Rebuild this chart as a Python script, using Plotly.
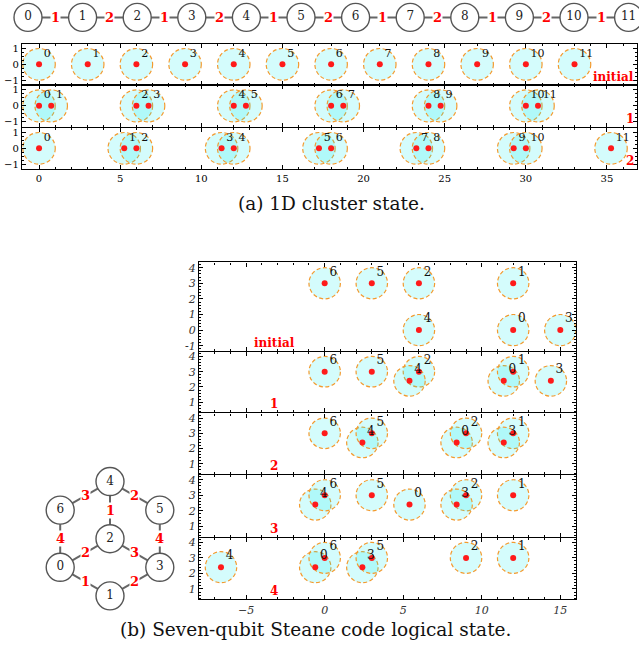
import math
import plotly.graph_objects as go

W, H = 639, 656

# ---------------- DATA ----------------
chain_labels = [str(i) for i in range(12)]
chain_edge_labels = ["1", "2", "1", "2", "1", "2", "1", "2", "1", "2", "1"]

a_qubits = [str(i) for i in range(12)]
a_panel_names = ["initial", "1", "2"]
a_x_initial = [0, 3, 6, 9, 12, 15, 18, 21, 24, 27, 30, 33]
a_x_step1 = [0, 0.75, 6, 6.75, 12, 12.75, 18, 18.75, 24, 24.75, 30, 30.75]
a_x_step2 = [0, 5.25, 6, 11.25, 12, 17.25, 18, 23.25, 24, 29.25, 30, 35.25]
a_y_all = [0] * 12

b_qubits = ["0", "1", "2", "3", "4", "5", "6"]
b_panel_names = ["initial", "1", "2", "3", "4"]
b_x_initial = [12, 12, 6, 15, 6, 3, 0]
b_y_initial = [0, 3, 3, 0, 0, 3, 3]
b_x_step1 = [11.4, 12, 6, 14.4, 5.4, 3, 0]
b_y_step1 = [2.4, 3, 3, 2.4, 2.4, 3, 3]
b_x_step2 = [8.4, 12, 9, 11.4, 2.4, 3, 0]
b_y_step2 = [2.4, 3, 3, 2.4, 2.4, 3, 3]
b_x_step3 = [5.4, 12, 9, 8.4, -0.6, 3, 0]
b_y_step3 = [2.4, 3, 3, 2.4, 2.4, 3, 3]
b_x_step4 = [-0.6, 12, 9, 2.4, -6.6, 3, 0]
b_y_step4 = [2.4, 3, 3, 2.4, 2.4, 3, 3]

# Steane graph: hexagon angle of each outer node (2 sits at the centre)
steane_nodes = ["4", "5", "3", "1", "0", "6", "2"]
steane_angles = [90, 30, -30, -90, -150, 150, None]
steane_edges = [("4", "6"), ("4", "5"), ("4", "2"), ("6", "0"), ("5", "3"),
                ("2", "0"), ("2", "3"), ("0", "1"), ("1", "3")]
steane_edge_labels = ["3", "2", "1", "4", "4", "2", "3", "1", "2"]

CIRCLE_R = 1.0

# ---------------- STYLE ----------------
SERIF = "DejaVu Serif"
FILL = "rgba(0,235,235,0.17)"
RING = "#f39a2e"
DOT = "#ff1a1a"
RED = "#ff0000"
NODE_LINE = "#555555"
LW = 1.3

fig = go.Figure()
shapes = []
annotations = []


def py(p):
    return 1 - p / H


def px(p):
    return p / W


def axis_common(**kw):
    d = dict(showgrid=False, zeroline=False, showline=True, linecolor="black",
             linewidth=LW, mirror="allticks", ticks="inside", tickcolor="black",
             tickwidth=1, fixedrange=True)
    d.update(kw)
    return d


layout_axes = {}

# ---------- panel (a) ----------
a_sets = [a_x_initial, a_x_step1, a_x_step2]
a_dom = [(42, 83.5), (83.5, 125.5), (126.5, 168)]
for k, (xs, dom) in enumerate(zip(a_sets, a_dom)):
    n = k + 1
    xa = "xaxis" if n == 1 else f"xaxis{n}"
    ya = "yaxis" if n == 1 else f"yaxis{n}"
    xr = "x" if n == 1 else f"x{n}"
    yr = "y" if n == 1 else f"y{n}"
    layout_axes[xa] = axis_common(
        domain=[px(22), px(637)], range=[-1.05, 36.85], anchor=yr,
        tick0=0, dtick=5, ticklen=4,
        minor=dict(dtick=1, ticks="inside", ticklen=2, tickcolor="black"),
        showticklabels=(k == 2),
        tickfont=dict(family=SERIF, size=10, color="black"))
    layout_axes[ya] = axis_common(
        domain=[py(dom[1]), py(dom[0])], range=[-1.3, 1.3], anchor=xr,
        tickvals=[-1, 0, 1], ticktext=["\u22121", "0", "1"], ticklen=4,
        minor=dict(dtick=0.25, ticks="inside", ticklen=2, tickcolor="black"),
        tickfont=dict(family=SERIF, size=10, color="black"))
    for x, y in zip(xs, a_y_all):
        shapes.append(dict(type="circle", xref=xr, yref=yr, layer="below",
                           x0=x - CIRCLE_R, x1=x + CIRCLE_R,
                           y0=y - CIRCLE_R, y1=y + CIRCLE_R,
                           fillcolor=FILL,
                           line=dict(color=RING, width=1.2, dash="4px,2.5px")))
    fig.add_trace(go.Scatter(
        x=xs, y=a_y_all, xaxis=xr, yaxis=yr, mode="markers+text",
        text=a_qubits, textposition="top right",
        textfont=dict(family=SERIF, size=11, color="#111"),
        marker=dict(color=DOT, size=6), cliponaxis=False, showlegend=False,
        hoverinfo="skip"))
    annotations.append(dict(
        xref=f"{xr} domain", yref=f"{yr} domain", x=1, y=0,
        xanchor="right", yanchor="bottom", showarrow=False,
        text=f"<b>{a_panel_names[k]}</b>", xshift=-1, yshift=-1,
        font=dict(family=SERIF, size=12, color=RED)))

# ---------- panel (b) ----------
b_sets = [(b_x_initial, b_y_initial), (b_x_step1, b_y_step1),
          (b_x_step2, b_y_step2), (b_x_step3, b_y_step3),
          (b_x_step4, b_y_step4)]
b_dom = [(262, 351), (352, 413), (414, 475), (476, 538), (539, 601)]
for k, ((xs, ys), dom) in enumerate(zip(b_sets, b_dom)):
    n = k + 4
    xa, ya, xr, yr = f"xaxis{n}", f"yaxis{n}", f"x{n}", f"y{n}"
    if k == 0:
        yrange = [-1.33, 4.34]
        tv = [-1, 0, 1, 2, 3, 4]
    else:
        yrange = [0.33, 4.3]
        tv = [1, 2, 3, 4]
    layout_axes[xa] = axis_common(
        domain=[px(199), px(576)], range=[-8, 16], anchor=yr,
        tick0=0, dtick=5, ticklen=4,
        minor=dict(dtick=1, ticks="inside", ticklen=2, tickcolor="black"),
        showticklabels=(k == 4),
        tickfont=dict(family=SERIF, size=11, color="#333", style="italic"))
    layout_axes[ya] = axis_common(
        domain=[py(dom[1]), py(dom[0])], range=yrange, anchor=xr,
        tickvals=tv, ticktext=[str(v) for v in tv], ticklen=4,
        minor=dict(dtick=0.2, ticks="inside", ticklen=2, tickcolor="black"),
        tickfont=dict(family=SERIF, size=11, color="#333", style="italic"))
    for x, y in zip(xs, ys):
        shapes.append(dict(type="circle", xref=xr, yref=yr, layer="below",
                           x0=x - CIRCLE_R, x1=x + CIRCLE_R,
                           y0=y - CIRCLE_R, y1=y + CIRCLE_R,
                           fillcolor=FILL,
                           line=dict(color=RING, width=1.2, dash="4px,2.5px")))
    fig.add_trace(go.Scatter(
        x=xs, y=ys, xaxis=xr, yaxis=yr, mode="markers+text",
        text=b_qubits, textposition="top right",
        textfont=dict(family=SERIF, size=12, color="#111"),
        marker=dict(color=DOT, size=6), cliponaxis=False, showlegend=False,
        hoverinfo="skip"))
    annotations.append(dict(
        xref=xr, yref=f"{yr} domain", x=-3.2, y=0,
        xanchor="center", yanchor="bottom", showarrow=False,
        text=f"<b>{b_panel_names[k]}</b>", yshift=-1,
        font=dict(family=SERIF, size=12, color=RED)))

# ---------- page overlay for graph diagrams (pixel units) ----------
layout_axes["xaxis9"] = dict(domain=[0, 1], range=[0, W], visible=False,
                             anchor="y9", fixedrange=True)
layout_axes["yaxis9"] = dict(domain=[0, 1], range=[H, 0], visible=False,
                             anchor="x9", fixedrange=True)

# chain
CH_X0, CH_DX, CH_Y = 28, 54.6, 15.5
ch_x = [CH_X0 + i * CH_DX for i in range(len(chain_labels))]
ch_y = [CH_Y] * len(chain_labels)
fig.add_trace(go.Scatter(x=ch_x, y=ch_y, xaxis="x9", yaxis="y9", mode="lines",
                         line=dict(color="#666", width=2), showlegend=False,
                         hoverinfo="skip"))
for i, lab in enumerate(chain_edge_labels):
    annotations.append(dict(
        xref="x9", yref="y9", x=(ch_x[i] + ch_x[i + 1]) / 2, y=CH_Y,
        text=f"<b>{lab}</b>", showarrow=False, bgcolor="white", borderpad=0,
        font=dict(family=SERIF, size=13, color=RED)))
fig.add_trace(go.Scatter(
    x=ch_x, y=ch_y, xaxis="x9", yaxis="y9", mode="markers+text",
    text=chain_labels, textposition="middle center",
    textfont=dict(family=SERIF, size=12, color="#222"),
    marker=dict(size=28, color="white", line=dict(color=NODE_LINE, width=1.4)),
    showlegend=False, hoverinfo="skip"))

# Steane graph
ST_CX, ST_CY, ST_R = 110, 540, 57.5
pos = {}
for name, ang in zip(steane_nodes, steane_angles):
    if ang is None:
        pos[name] = (ST_CX, ST_CY)
    else:
        pos[name] = (ST_CX + ST_R * math.cos(math.radians(ang)),
                     ST_CY - ST_R * math.sin(math.radians(ang)))
ex, ey = [], []
for (a, b), lab in zip(steane_edges, steane_edge_labels):
    ex += [pos[a][0], pos[b][0], None]
    ey += [pos[a][1], pos[b][1], None]
    annotations.append(dict(
        xref="x9", yref="y9", x=(pos[a][0] + pos[b][0]) / 2,
        y=(pos[a][1] + pos[b][1]) / 2,
        text=f"<b>{lab}</b>", showarrow=False, bgcolor="white", borderpad=0,
        font=dict(family=SERIF, size=13, color=RED)))
fig.add_trace(go.Scatter(x=ex, y=ey, xaxis="x9", yaxis="y9", mode="lines",
                         line=dict(color="#666", width=2), showlegend=False,
                         hoverinfo="skip"))
fig.add_trace(go.Scatter(
    x=[pos[n][0] for n in steane_nodes], y=[pos[n][1] for n in steane_nodes],
    xaxis="x9", yaxis="y9", mode="markers+text", text=steane_nodes,
    textposition="middle center",
    textfont=dict(family=SERIF, size=12, color="#222"),
    marker=dict(size=28, color="white", line=dict(color=NODE_LINE, width=1.4)),
    showlegend=False, hoverinfo="skip"))

# captions
annotations.append(dict(xref="paper", yref="paper", x=px(331), y=py(203),
                        xanchor="center", yanchor="middle",
                        text="(a) 1D cluster state.", showarrow=False,
                        font=dict(family=SERIF, size=18.5, color="#111")))
annotations.append(dict(xref="paper", yref="paper", x=px(315), y=py(631),
                        xanchor="center", yanchor="middle",
                        text="(b) Seven-qubit Steane code logical state.",
                        showarrow=False,
                        font=dict(family=SERIF, size=18.5, color="#111")))

fig.update_layout(
    width=W, height=H, margin=dict(l=0, r=0, t=0, b=0),
    paper_bgcolor="white", plot_bgcolor="rgba(0,0,0,0)",
    shapes=shapes, annotations=annotations, showlegend=False,
    **layout_axes)

fig.write_html("out.html", config={"displayModeBar": False})
